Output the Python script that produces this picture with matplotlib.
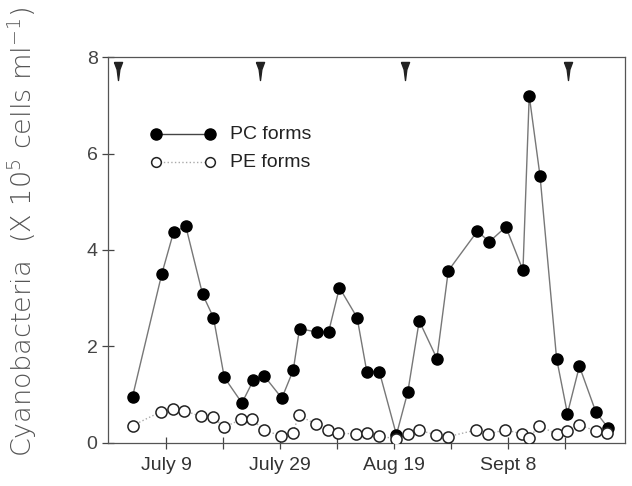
import matplotlib
matplotlib.use('Agg')
import matplotlib.pyplot as plt

plt.rcParams['font.family'] = ['Liberation Sans', 'DejaVu Sans']

# x in days after July 9
pc_x = [-5.9, -0.75, 1.3, 3.45, 6.4, 8.3, 10.2, 13.3, 15.3, 17.2, 20.3, 22.3, 23.4,
        26.4, 28.5, 30.4, 33.5, 35.2, 37.4, 40.4, 42.4, 44.4, 47.5, 49.5, 54.6,
        56.7, 59.6, 62.6, 63.7, 65.6, 68.5, 70.4, 72.5, 75.4, 77.5]
pc_y = [0.96, 3.51, 4.37, 4.49, 3.08, 2.60, 1.36, 0.83, 1.30, 1.39, 0.93, 1.51, 2.37,
        2.30, 2.30, 3.22, 2.60, 1.48, 1.48, 0.17, 1.06, 2.53, 1.75, 3.57, 4.39,
        4.17, 4.48, 3.58, 7.20, 5.53, 1.75, 0.61, 1.59, 0.64, 0.32]

pe_x = [-5.9, -0.9, 1.2, 3.2, 6.1, 8.2, 10.2, 13.2, 15.1, 17.2, 20.2, 22.2, 23.3,
        26.3, 28.4, 30.2, 33.3, 35.2, 37.3, 40.4, 42.4, 44.4, 47.4, 49.4, 54.4,
        56.4, 59.5, 62.5, 63.6, 65.5, 68.5, 70.4, 72.5, 75.4, 77.4]
pe_y = [0.36, 0.65, 0.70, 0.67, 0.55, 0.53, 0.33, 0.49, 0.49, 0.26, 0.15, 0.21, 0.57,
        0.39, 0.27, 0.20, 0.19, 0.21, 0.15, 0.08, 0.19, 0.26, 0.17, 0.13, 0.27,
        0.19, 0.27, 0.19, 0.10, 0.36, 0.18, 0.25, 0.37, 0.25, 0.21]

arrow_x = [-8.4, 16.5, 41.9, 70.5]

xticks = [0, 10, 20, 30, 40, 50, 60, 70]
xlabels = ['July 9', '', 'July 29', '', 'Aug 19', '', 'Sept 8', '']
yticks = [0, 2, 4, 6, 8]

fig = plt.figure(figsize=(6.32, 4.86), dpi=100)
ax = fig.add_axes([0.1709, 0.0885, 0.818, 0.7942])

ax.plot(pc_x, pc_y, '-', color='#777777', lw=1.0, zorder=2)
ax.plot(pc_x, pc_y, 'o', color='black', ms=8, zorder=3)
ax.plot(pe_x, pe_y, ':', color='#aaaaaa', lw=1.0, zorder=2)
ax.plot(pe_x, pe_y, 'o', mfc='white', mec='#222222', mew=1.1, ms=8, ls='none', zorder=3)

arrow = [(-0.45, 1.0), (0.45, 1.0), (0.15, 0.2), (0.0, -1.0), (-0.15, 0.2), (-0.45, 1.0)]
ax.plot(arrow_x, [7.70] * len(arrow_x), ls='none', marker=arrow, color='#222222',
        ms=13, zorder=4)

# legend drawn by hand
ax.plot([-1.7, 7.7], [6.4, 6.4], '-', color='#444444', lw=1.0)
ax.plot([-1.7, 7.7], [6.4, 6.4], 'o', color='black', ms=8)
ax.plot([-1.7, 7.7], [5.82, 5.82], ':', color='#aaaaaa', lw=1.0)
ax.plot([-1.7, 7.7], [5.82, 5.82], 'o', mfc='white', mec='#222222', mew=1.1, ms=7)
ax.text(11.2, 6.4, 'PC forms', fontsize=14, va='center', color='#222222')
ax.text(11.2, 5.82, 'PE forms', fontsize=14, va='center', color='#222222')

ax.set_xlim(-10.2, 80.5)
ax.set_ylim(0, 8)
ax.set_xticks(xticks)
ax.set_xticklabels(xlabels, fontsize=14, color='#333333')
ax.set_yticks(yticks)
ax.set_yticklabels([str(v) for v in yticks], fontsize=14, color='#444444')
ax.tick_params(direction='inout', length=8, width=0.9, color='#444444')
ax.tick_params(axis='x', pad=6)
for s in ax.spines.values():
    s.set_color('#555555')
    s.set_linewidth(0.9)

fig.text(0.035, 0.523, r'Cyanobacteria  (X 10$^{\mathregular{5}}$ cells ml$^{\mathregular{-1}}$)',
         rotation=90, fontsize=19.5, color='#555555', ha='center', va='center',
         family='DejaVu Sans', fontweight='light')

fig.savefig('out.png', dpi=100)
